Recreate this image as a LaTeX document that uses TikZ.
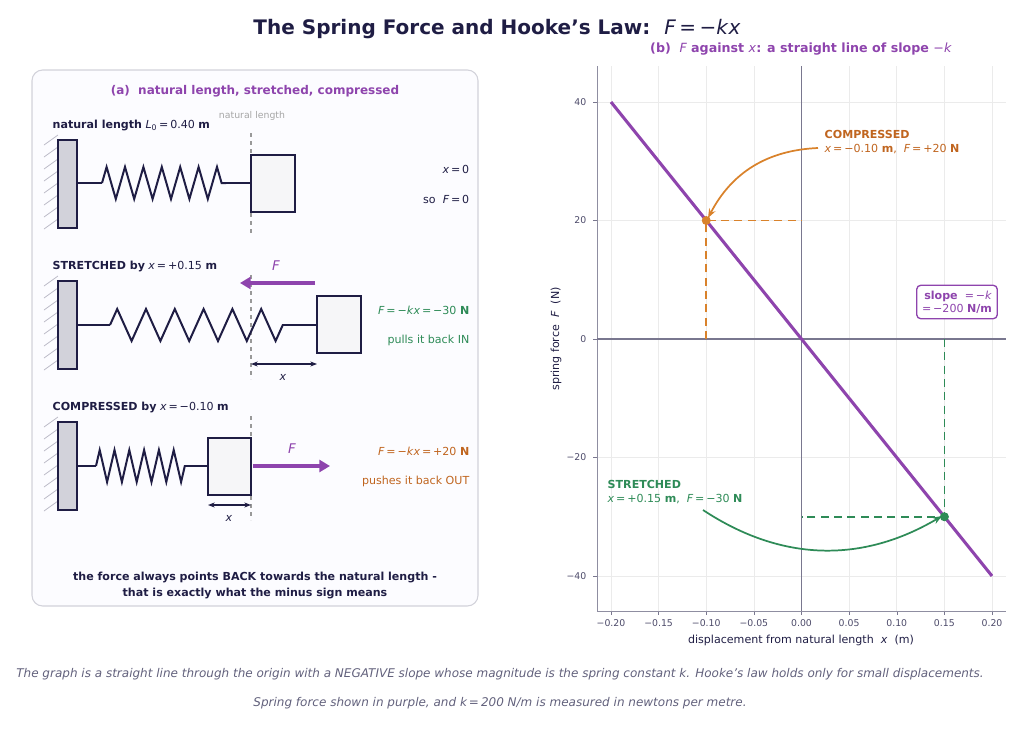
\documentclass[tikz,border=0pt]{standalone}
\usepackage{fontspec}
\setmainfont{DejaVu Sans}
\usetikzlibrary{arrows.meta,decorations.pathmorphing}
\definecolor{ink}{HTML}{1F1D44}
\definecolor{purp}{HTML}{8E44AD}
\definecolor{orng}{HTML}{D9822B}
\definecolor{ortx}{HTML}{C0651F}
\definecolor{grn}{HTML}{2E8B57}
\definecolor{gridc}{HTML}{EBEBEB}
\tikzset{
  wall/.style={draw=ink,line width=1.4pt,fill=ink!20},
  block/.style={draw=ink,line width=1.4pt,fill=ink!4},
  springline/.style={ink,line width=1.5pt},
  coil/.style={springline,decorate,decoration={zigzag,amplitude=12,segment length=#1}},
  natline/.style={gray!80,dashed,line width=0.8pt},
  force/.style={purp,line width=2.4pt,-{Triangle[length=8pt,width=9pt]}},
  dim/.style={ink,line width=0.8pt,{Stealth[length=5pt]}-{Stealth[length=5pt]}},
  lbl/.style={font=\fontsize{8.3}{10}\selectfont,text=ink},
  tick/.style={font=\fontsize{7}{9}\selectfont,text=ink!80},
}
\newcommand{\vx}{\textit{x}}
\newcommand{\vF}{\textit{F}}
\newcommand{\vk}{\textit{k}}
\begin{document}
\begin{tikzpicture}[x=0.75pt,y=-0.75pt]
\useasboundingbox (0,0) rectangle (1024,728);

% title
\node[font=\fontsize{15}{18}\selectfont\bfseries,text=ink] (title) at (497,29) {The Spring Force and Hooke's Law:\ \ \mdseries\vF\,=\,−\vk\vx};

% ---- left panel
\draw[rounded corners=8pt,draw=ink!20,fill=blue!1,line width=0.8pt] (32,70) rectangle (478,606);
\node[lbl,font=\fontsize{9}{11}\selectfont\bfseries,text=purp] (pa) at (255,91) {(a)\ \ natural length, stretched, compressed};
\node[font=\fontsize{7}{9}\selectfont,text=gray!70] (natl) at (252,116) {natural length};

% row 1
\node[lbl,anchor=west] (r1) at (48,125) {\textbf{natural length} \textit{L}\textsubscript{0}\,=\,0.40 \textbf{m}};
\foreach \yy in {145,157,...,230} \draw[ink!30,line width=0.6pt] (44,\yy) -- (58,\yy-10);
\draw[wall] (58,140) rectangle (77,228);
\draw[natline] (251,133) -- (251,236);
\draw[springline] (77,183) -- (102,183);
\draw[coil=13.8] (102,183) -- (226,183);
\draw[springline] (226,183) -- (251,183);
\draw[block] (251,155) rectangle (295,212);
\node[lbl,anchor=east] (x0) at (474,169) {\vx\,=\,0};
\node[lbl,anchor=east] (f0) at (474,199) {so\ \ \vF\,=\,0};

% row 2
\node[lbl,anchor=west] (r2) at (48,266) {\textbf{STRETCHED by} \vx\,=\,+0.15 \textbf{m}};
\foreach \yy in {286,298,...,371} \draw[ink!30,line width=0.6pt] (44,\yy) -- (58,\yy-10);
\draw[wall] (58,281) rectangle (77,369);
\draw[natline] (251,275) -- (251,379);
\draw[springline] (77,325) -- (110,325);
\draw[coil=21.6] (110,325) -- (283,325);
\draw[springline] (283,325) -- (317,325);
\draw[block] (317,296) rectangle (361,353);
\draw[force] (315,283) -- (240,283);
\node[font=\fontsize{10}{12}\selectfont,text=purp] (F2) at (276,266) {\vF};
\draw[dim] (251,364) -- (317,364);
\node[lbl] (x2) at (283,377) {\vx};
\node[lbl,anchor=east,text=grn] (e2) at (474,310) {\vF\,=\,−\vk\vx\,=\,−30 \textbf{N}};
\node[lbl,anchor=east,text=grn] (p2) at (474,340) {pulls it back IN};

% row 3
\node[lbl,anchor=west] (r3) at (48,407) {\textbf{COMPRESSED by} \vx\,=\,−0.10 \textbf{m}};
\foreach \yy in {427,439,...,512} \draw[ink!30,line width=0.6pt] (44,\yy) -- (58,\yy-10);
\draw[wall] (58,422) rectangle (77,510);
\draw[natline] (251,416) -- (251,520);
\draw[springline] (77,466) -- (96,466);
\draw[coil=11.1] (96,466) -- (185,466);
\draw[springline] (185,466) -- (208,466);
\draw[block] (208,438) rectangle (251,495);
\draw[force] (253,466) -- (330,466);
\node[font=\fontsize{10}{12}\selectfont,text=purp] (F3) at (292,449) {\vF};
\draw[dim] (208,505) -- (251,505);
\node[lbl] (x3) at (229,518) {\vx};
\node[lbl,anchor=east,text=ortx] (e3) at (474,451) {\vF\,=\,−\vk\vx\,=\,+20 \textbf{N}};
\node[lbl,anchor=east,text=ortx] (p3) at (474,481) {pushes it back OUT};

\node[lbl,align=center,font=\fontsize{8.3}{12}\selectfont\bfseries] (foot) at (255,585) {the force always points BACK towards the natural length -\\that is exactly what the minus sign means};

% ---- right panel: plot, px = 801.5+952.5x, py = 339-5.925F
\node[font=\fontsize{9.5}{11}\selectfont\bfseries,text=purp] (pb) at (801,49) {(b)\ \ \mdseries\vF\ \bfseries against \mdseries\vx\bfseries: a straight line of slope \mdseries−\vk};
\foreach \t/\s in {-0.2/−0.20,-0.15/−0.15,-0.1/−0.10,-0.05/−0.05,0/0.00,0.05/0.05,0.1/0.10,0.15/0.15,0.2/0.20} {
  \pgfmathsetmacro{\px}{801.5+952.5*\t}
  \draw[gridc,line width=0.5pt] (\px,66) -- (\px,611);
  \draw[ink!60] (\px,611) -- (\px,615);
  \node[tick] at (\px,623) {\s};
}
\foreach \f/\s in {-40/−40,-20/−20,0/0,20/20,40/40} {
  \pgfmathsetmacro{\py}{339-5.925*\f}
  \draw[gridc,line width=0.5pt] (597,\py) -- (1006,\py);
  \draw[ink!60] (593,\py) -- (597,\py);
  \node[tick,anchor=east] at (591,\py) {\s};
}
\draw[ink!50,line width=0.7pt] (597,66) -- (597,611) -- (1006,611);
\draw[ink!60,line width=0.8pt] (597,339) -- (1006,339);
\draw[ink!60,line width=0.8pt] (801.5,66) -- (801.5,611);
\node[lbl] (xl) at (801,640) {displacement from natural length\ \ \vx\ \ (m)};
\node[lbl,rotate=90] (yl) at (556,339) {spring force\ \ \vF\ \ (N)};

\draw[orng,line width=1.3pt,dash pattern=on 6pt off 4pt] (706.25,339) -- (706.25,220.5) -- (801.5,220.5);
\draw[grn,line width=1.3pt,dash pattern=on 6pt off 4pt] (944.4,339) -- (944.4,516.75) -- (801.5,516.75);
\draw[purp,line width=2.3pt] (611,102) -- (992,576);
\fill[orng] (706.25,220.5) circle (4.5);
\fill[grn] (944.4,516.75) circle (4.5);
\coordinate (pc) at (708,218);
\coordinate (ps) at (942,516);

\node[lbl,anchor=west,align=left,text=ortx] (ca) at (820,142) {\textbf{COMPRESSED}\\[1pt]\vx\,=\,−0.10 \textbf{m},\ \ \vF\,=\,+20 \textbf{N}};
\draw[orng,line width=1.3pt,-{Stealth[length=7pt]}] (818,148) to[bend right=30] (pc);
\node[lbl,anchor=west,align=left,text=grn] (sa) at (603,492) {\textbf{STRETCHED}\\[1pt]\vx\,=\,+0.15 \textbf{m},\ \ \vF\,=\,−30 \textbf{N}};
\draw[grn,line width=1.3pt,-{Stealth[length=7pt]}] (703,510) to[bend right=32] (ps);

\node[lbl,draw=purp,line width=1pt,rounded corners=3pt,fill=white,align=right,text=purp,inner sep=4pt] (sl) at (957,302) {\textbf{slope}\ \ =\,−\vk\\=\,−200 \textbf{N/m}};

% caption
\node[font=\fontsize{9}{10}\selectfont\itshape,text=ink!70] (c1) at (500,674) {The graph is a straight line through the origin with a NEGATIVE slope whose magnitude is the spring constant k. Hooke's law holds only for small displacements.};
\node[font=\fontsize{9}{10}\selectfont\itshape,text=ink!70] (c2) at (500,703) {Spring force shown in purple, and k\,=\,200 N/m is measured in newtons per metre.};
\end{tikzpicture}
\end{document}
